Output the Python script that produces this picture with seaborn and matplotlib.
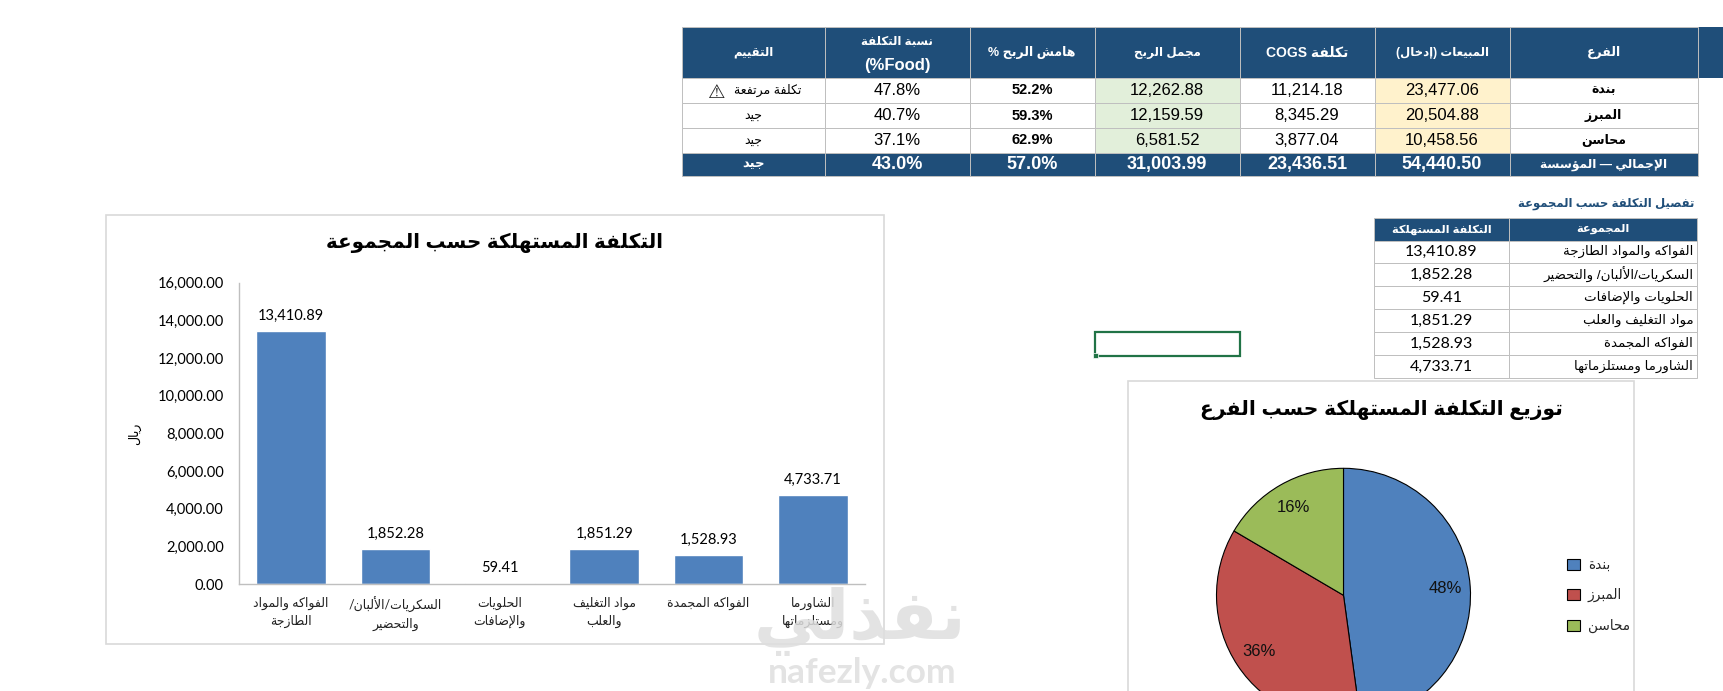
import re
import matplotlib
matplotlib.use('Agg')
import matplotlib.pyplot as plt
import seaborn as sns
import pandas as pd
from matplotlib.patches import Rectangle
from matplotlib.table import Table

W, H = 1723, 691

# --- data ---
summary_headers = ['التقييم', '', 'هامش الربح %', 'مجمل الربح',
                   'تكلفة COGS', 'المبيعات (إدخال)', 'الفرع']
food_header = ['نسبة التكلفة', '(%Food)']
branches = ['بندة', 'المبرز', 'محاسن']
sales = [23477.06, 20504.88, 10458.56]
cogs = [11214.18, 8345.29, 3877.04]
gross = [12262.88, 12159.59, 6581.52]
margin_pct = [52.2, 59.3, 62.9]
food_pct = [47.8, 40.7, 37.1]
ratings = ['تكلفة مرتفعة', 'جيد', 'جيد']
total_row = ['جيد', '43.0%', '57.0%', '31,003.99', '23,436.51', '54,440.50', 'الإجمالي — المؤسسة']

groups = ['الفواكه والمواد الطازجة', 'السكريات/الألبان/ والتحضير', 'الحلويات والإضافات',
          'مواد التغليف والعلب', 'الفواكه المجمدة', 'الشاورما ومستلزماتها']
group_ticks = ['الفواكه والمواد\nالطازجة', 'السكريات/الألبان/\nوالتحضير', 'الحلويات\nوالإضافات',
               'مواد التغليف\nوالعلب', 'الفواكه المجمدة', 'الشاورما\nومستلزماتها']
group_cost = [13410.89, 1852.28, 59.41, 1851.29, 1528.93, 4733.71]
pie_labels = ['48%', '36%', '16%']

HEADER = '#1F4E79'
GRID = '#BFBFBF'
FRAME = '#D9D9D9'
BLUE, RED, GREEN = '#4F81BD', '#C0504D', '#9BBB59'
ARIAL = ['Liberation Sans', 'DejaVu Sans']
CALIBRI = ['Lato', 'DejaVu Sans']

# matplotlib does no Arabic shaping: map letters to presentation forms, then to visual order
LETTERS = 'ءآأؤإئابةتثجحخدذرزسشصضطظعغفقكلمنهوىي'
COUNTS = [1, 2, 2, 2, 2, 4, 2, 4, 2, 4, 4, 4, 4, 4, 2, 2, 2, 2,
          4, 4, 4, 4, 4, 4, 4, 4, 4, 4, 4, 4, 4, 4, 4, 2, 2, 4]
FORMS = {}
code = 0xFE80
for letter, n in zip(LETTERS, COUNTS):
    FORMS[letter] = [chr(code + i) for i in range(n)]
    code += n
LAM_ALEF = {'آ': 0xFEF5, 'أ': 0xFEF7, 'إ': 0xFEF9, 'ا': 0xFEFB}


def shape_line(line):
    out = []
    i = 0
    while i < len(line):
        ch = line[i]
        prev_joins = i > 0 and len(FORMS.get(line[i - 1], [])) == 4
        if ch == 'ل' and i + 1 < len(line) and line[i + 1] in LAM_ALEF:
            out.append(chr(LAM_ALEF[line[i + 1]] + (1 if prev_joins else 0)))
            i += 2
            continue
        if ch in FORMS:
            forms = FORMS[ch]
            next_joins = i + 1 < len(line) and len(FORMS.get(line[i + 1], [])) >= 2
            if len(forms) == 4:
                out.append(forms[{(1, 1): 3, (0, 1): 2, (1, 0): 1, (0, 0): 0}[(int(prev_joins), int(next_joins))]])
            elif len(forms) == 2:
                out.append(forms[1 if prev_joins else 0])
            else:
                out.append(forms[0])
        else:
            out.append(ch)
        i += 1
    return ''.join(out)


def ar(text):
    lines = []
    for line in text.split('\n'):
        if not any(c in FORMS for c in line):
            lines.append(line)
            continue
        vis = shape_line(line)[::-1].translate(str.maketrans('()', ')('))
        lines.append(re.sub(r'[A-Za-z0-9.,]+', lambda m: m.group()[::-1], vis))
    return '\n'.join(lines)


def px_axes(x0, y0, x1, y1, **kw):
    return fig.add_axes([x0 / W, 1 - y1 / H, (x1 - x0) / W, (y1 - y0) / H], **kw)


def draw_table(col_edges, row_edges, rows, styles):
    ax = px_axes(col_edges[0], row_edges[0], col_edges[-1], row_edges[-1])
    ax.axis('off')
    tbl = Table(ax, bbox=[0, 0, 1, 1])
    span_x = col_edges[-1] - col_edges[0]
    span_y = row_edges[-1] - row_edges[0]
    for r, row in enumerate(rows):
        for c, txt in enumerate(row):
            st = styles(r, c)
            cell = tbl.add_cell(r, c, (col_edges[c + 1] - col_edges[c]) / span_x,
                                (row_edges[r + 1] - row_edges[r]) / span_y,
                                text=ar(txt), loc=st.get('loc', 'center'),
                                facecolor=st.get('bg', 'white'), edgecolor=GRID)
            cell.PAD = st.get('pad', 0.02)
            cell.set_linewidth(0.7)
            cell.get_text().set(fontsize=st['size'], color=st.get('color', 'black'),
                                fontweight=st.get('weight', 'normal'), family=st.get('family', ARIAL))
    tbl.auto_set_font_size(False)
    ax.add_table(tbl)
    return ax


sns.set_theme(style='white')
plt.rcParams['font.family'] = CALIBRI
fig = plt.figure(figsize=(W / 100, H / 100), dpi=100, facecolor='white')

# page level items in pixel coordinates
page = fig.add_axes([0, 0, 1, 1])
page.set_xlim(0, W)
page.set_ylim(H, 0)
page.axis('off')
page.add_patch(Rectangle((105.5, 215), 778.5, 429, fc='white', ec=FRAME, lw=1.2))
page.add_patch(Rectangle((1128, 381), 506, 330, fc='white', ec=FRAME, lw=1.2))
page.add_patch(Rectangle((1697, 27), 26, 51, fc=HEADER, ec='none'))
page.add_patch(Rectangle((1094.5, 332), 145, 24, fc='none', ec='#217346', lw=1.6))
page.add_patch(Rectangle((1093, 353), 5, 5, fc='#217346', ec='white', lw=0.5))
page.text(1694, 204, ar('تفصيل التكلفة حسب المجموعة'), ha='right', va='center', fontsize=8.4,
          fontweight='bold', color=HEADER, family=ARIAL)

# summary table
rows = [summary_headers]
for i in range(len(branches)):
    rows.append([ratings[i], f'{food_pct[i]:.1f}%', f'{margin_pct[i]:.1f}%', f'{gross[i]:,.2f}',
                 f'{cogs[i]:,.2f}', f'{sales[i]:,.2f}', branches[i]])
rows.append(total_row)


def summary_style(r, c):
    if r == 0:
        size = {0: 8.5, 2: 9, 3: 8.6, 4: 10, 5: 8.5, 6: 9}.get(c, 9)
        return {'bg': HEADER, 'color': 'white', 'weight': 'bold', 'size': size}
    if r == 4:
        size = 13 if c not in (0, 6) else (9.5 if c == 0 else 8.8)
        return {'bg': HEADER, 'color': 'white', 'weight': 'bold', 'size': size}
    st = {'size': 12}
    if c == 0:
        st['size'] = 9
        if r == 1:
            st.update(loc='right', pad=0.167)
    if c == 2:
        st.update(weight='bold', size=10.5)
    if c == 3:
        st['bg'] = '#E2EFDA'
    if c == 5:
        st['bg'] = '#FFF2CC'
    if c == 6:
        st.update(weight='bold', size=9)
    return st


top = draw_table([681.5, 825, 969.5, 1095, 1239.5, 1374.5, 1509.5, 1697.5], [27, 78, 103, 128, 153, 176],
                 rows, summary_style)
top.set_zorder(1)
page.set_zorder(0)

# texts over the table: two size header and warning sign
over = fig.add_axes([0, 0, 1, 1], zorder=5)
over.set_xlim(0, W)
over.set_ylim(H, 0)
over.axis('off')
over.text(897, 42, ar(food_header[0]), ha='center', va='center', fontsize=8.5, fontweight='bold',
          color='white', family=ARIAL)
over.text(897, 65, food_header[1], ha='center', va='center', fontsize=12, fontweight='bold',
          color='white', family=ARIAL)
over.text(717, 92.5, '⚠', ha='center', va='center', fontsize=14, color='#222222', family=['DejaVu Sans'])

# group table
group_rows = [['التكلفة المستهلكة', 'المجموعة']]
for g, v in zip(groups, group_cost):
    group_rows.append([f'{v:,.2f}', g])


def group_style(r, c):
    if r == 0:
        return {'bg': HEADER, 'color': 'white', 'weight': 'bold', 'size': 8.2}
    if c == 1:
        return {'size': 9.6, 'loc': 'right'}
    return {'size': 11.5, 'family': CALIBRI}


draw_table([1374, 1509, 1697], [218, 240.5, 263, 286, 309, 332, 355, 378], group_rows, group_style)

# bar chart
bar_df = pd.DataFrame({'group': [ar(t) for t in group_ticks], 'cost': group_cost})
ax = px_axes(239, 282.7, 865, 584)
ax.set_facecolor('none')
sns.barplot(data=bar_df, x='group', y='cost', color=BLUE, saturation=1, width=0.67, ax=ax)
ax.set_ylim(0, 16000)
ax.set_yticks(range(0, 16001, 2000))
ax.set_yticklabels([f'{v:,.2f}' for v in range(0, 16001, 2000)])
ax.tick_params(axis='y', length=0, pad=11, labelsize=10.5, labelcolor='black')
ax.tick_params(axis='x', length=0, pad=9, labelsize=9, labelcolor='#222222')
for lab in ax.get_xticklabels():
    lab.set_linespacing(1.55)
ax.set_xlabel('')
ax.set_ylabel(ar('ريال'), fontsize=9, color='black', labelpad=12)
for side in ('top', 'right'):
    ax.spines[side].set_visible(False)
for side in ('left', 'bottom'):
    ax.spines[side].set_color('#BFBFBF')
    ax.spines[side].set_linewidth(1)
ax.bar_label(ax.containers[0], labels=[f'{v:,.2f}' for v in group_cost], padding=6,
             fontsize=10.5, color='black')
fig.text(494 / W, 1 - 243 / H, ar('التكلفة المستهلكة حسب المجموعة'), ha='center', va='center',
         fontsize=14.3, fontweight='bold', color='black', family=ARIAL)

# pie chart
R_PX = 127 * 1.05
pie_ax = px_axes(1343.5 - R_PX, 595.3 - R_PX, 1343.5 + R_PX, 595.3 + R_PX)
wedges, texts = pie_ax.pie(cogs, colors=[BLUE, RED, GREEN], labels=pie_labels, startangle=90,
                           counterclock=False, labeldistance=0.8,
                           wedgeprops={'edgecolor': 'black', 'linewidth': 0.8})
for t in texts:
    t.set(ha='center', va='center', fontsize=12, color='#111111', family=ARIAL)
pie_ax.set_xlim(-1.05, 1.05)
pie_ax.set_ylim(-1.05, 1.05)
pie_ax.legend(wedges, [ar(b) for b in branches], loc='center left', frameon=False, fontsize=9.8,
              bbox_to_anchor=(1555 / W, 1 - 596 / H), bbox_transform=fig.transFigure,
              handlelength=0.9, handleheight=0.9, handletextpad=0.6, labelspacing=1.25)
fig.text(1381 / W, 1 - 410 / H, ar('توزيع التكلفة المستهلكة حسب الفرع'), ha='center', va='center',
         fontsize=14.6, fontweight='bold', color='black', family=ARIAL)

# watermark sits over everything
fig.text(860 / W, 1 - 622 / H, ar('نفذلي'), ha='center', va='center', fontsize=50, fontweight='bold',
         color='#DEDEDE', alpha=0.85, family=ARIAL, zorder=20)
fig.text(862 / W, 1 - 673 / H, 'nafezly.com', ha='center', va='center', fontsize=25.5, fontweight='bold',
         color='#DEDEDE', alpha=0.85, family=['Lato'], zorder=20)

fig.savefig('out.png', dpi=100)
plt.close('all')
